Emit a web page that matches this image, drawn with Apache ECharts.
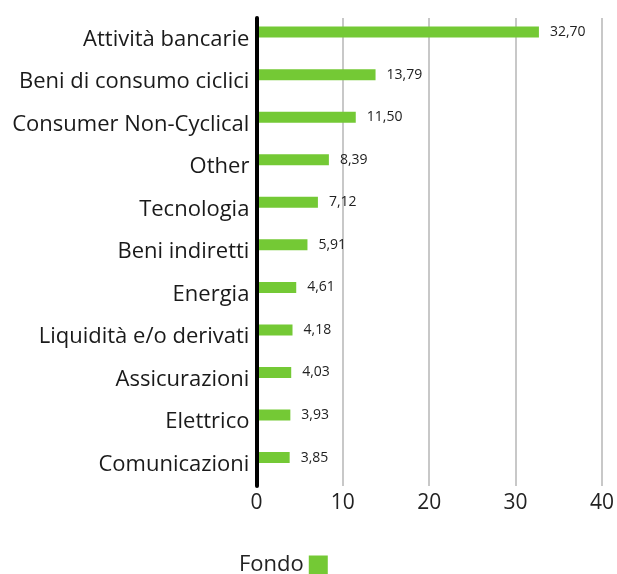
<!DOCTYPE html>
<html>
<head>
<meta charset="utf-8">
<script src="https://cdn.jsdelivr.net/npm/echarts@6/dist/echarts.min.js"></script>
<style>html,body{margin:0;padding:0;background:#fff;}#c{width:617px;height:574px;}</style>
</head>
<body>
<div id="c"></div>
<script>
const categories = ['Attività bancarie','Beni di consumo ciclici','Consumer Non-Cyclical','Other','Tecnologia','Beni indiretti','Energia','Liquidità e/o derivati','Assicurazioni','Elettrico','Comunicazioni'];
const fondo = [32.70, 13.79, 11.50, 8.39, 7.12, 5.91, 4.61, 4.18, 4.03, 3.93, 3.85];
const xTicks = [0, 10, 20, 30, 40];
const FONT = '"Open Sans", sans-serif';
const chart = echarts.init(document.getElementById('c'));
chart.setOption({
  animation: false,
  textStyle: { fontFamily: FONT },
  grid: { left: 256.4, right: 12.7, top: 18, bottom: 88, containLabel: false },
  legend: {
    data: ['Fondo'], left: 234, top: 549, align: 'right',
    itemWidth: 19, itemHeight: 19, icon: 'rect', itemGap: 8,
    textStyle: { fontSize: 22, color: '#222', fontFamily: FONT, padding: [0, 0, 0, 0] }
  },
  xAxis: {
    type: 'value', min: xTicks[0], max: xTicks[xTicks.length - 1], interval: 10,
    axisLine: { show: false }, axisTick: { show: false },
    splitLine: { show: true, lineStyle: { color: '#c8c8c8', width: 2 } },
    axisLabel: { fontSize: 21, color: '#222', margin: 7, fontFamily: FONT }
  },
  yAxis: {
    type: 'category', data: categories, inverse: true, z: 10,
    axisLine: { show: true, lineStyle: { color: '#000', width: 4 } },
    axisTick: { show: false },
    axisLabel: { fontSize: 22, color: '#1a1a1a', margin: 7, fontFamily: FONT }
  },
  series: [
    {
      name: 'Fondo', type: 'bar', data: fondo, barWidth: 11, barGap: '30%',
      itemStyle: { color: '#74c935' },
      label: {
        show: true, position: 'right', distance: 11, fontSize: 14, color: '#222', fontFamily: FONT,
        formatter: p => p.value.toFixed(2).replace('.', ',')
      }
    },
    {
      name: 'Benchmark', type: 'bar', data: categories.map(() => '-'), barWidth: 11,
      itemStyle: { color: '#000' }
    }
  ]
});
</script>
</body>
</html>
